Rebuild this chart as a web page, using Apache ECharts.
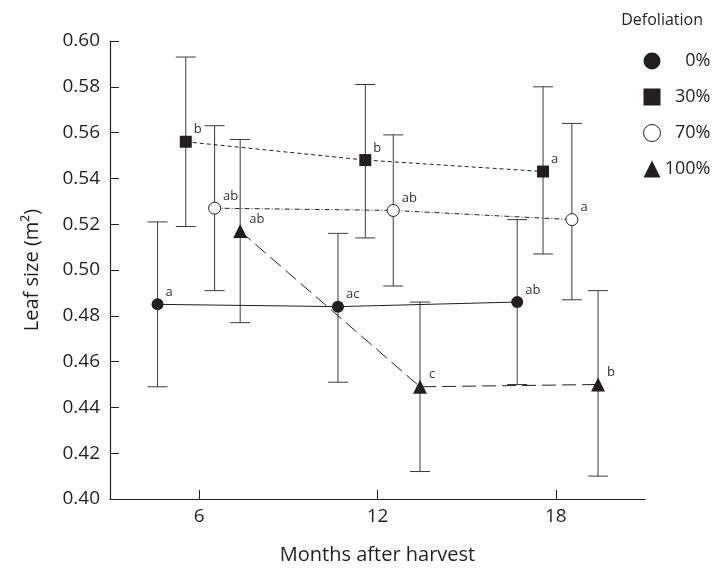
<!DOCTYPE html>
<html>
<head>
<meta charset="utf-8">
<script src="https://cdn.jsdelivr.net/npm/echarts@6/dist/echarts.min.js"></script>
<style>
  html, body { margin: 0; padding: 0; background: #fff; }
  #chart { width: 713px; height: 572px; }
</style>
</head>
<body>
<div id="chart"></div>
<script>
// ── data ──
const groups = ['0%', '30%', '70%', '100%']
const xTicks = [6, 12, 18]

// x positions (months, jittered per group as in the figure)
const x0 = [4.6, 10.67, 16.7]
const x30 = [5.55, 11.59, 17.57]
const x70 = [6.52, 12.53, 18.54]
const x100 = [7.38, 13.43, 19.42]

// means
const mean0 = [0.485, 0.484, 0.486]
const mean30 = [0.556, 0.548, 0.543]
const mean70 = [0.527, 0.526, 0.522]
const mean100 = [0.517, 0.449, 0.450]

// error bar lower / upper
const low0 = [0.449, 0.451, 0.450]
const up0 = [0.521, 0.516, 0.522]
const low30 = [0.519, 0.514, 0.507]
const up30 = [0.593, 0.581, 0.580]
const low70 = [0.491, 0.493, 0.487]
const up70 = [0.563, 0.559, 0.564]
const low100 = [0.477, 0.412, 0.410]
const up100 = [0.557, 0.486, 0.491]

// significance letters
const letters0 = ['a', 'ac', 'ab']
const letters30 = ['b', 'b', 'a']
const letters70 = ['ab', 'ab', 'a']
const letters100 = ['ab', 'c', 'b']

const INK = '#231f20'
const FONT = '"Open Sans", "Noto Sans", sans-serif'

const sets = [
  { name: groups[0], x: x0, y: mean0, lo: low0, hi: up0, lab: letters0, symbol: 'circle', fill: INK, dash: 'solid' },
  { name: groups[1], x: x30, y: mean30, lo: low30, hi: up30, lab: letters30, symbol: 'rect', fill: INK, dash: [4, 3] },
  { name: groups[2], x: x70, y: mean70, lo: low70, hi: up70, lab: letters70, symbol: 'circle', fill: '#fff', dash: [5, 2, 1, 2] },
  { name: groups[3], x: x100, y: mean100, lo: low100, hi: up100, lab: letters100, symbol: 'triangle', fill: INK, dash: [14, 6] },
]

// ── series ──
const series = []

sets.forEach(s => {
  // error bars
  series.push({
    type: 'custom',
    name: s.name + ' err',
    z: 1,
    silent: true,
    data: s.x.map((v, i) => [v, s.lo[i], s.hi[i]]),
    renderItem(params, api) {
      const lo = api.coord([api.value(0), api.value(1)])
      const hi = api.coord([api.value(0), api.value(2)])
      const w = 10
      const style = { stroke: '#3a3a3a', lineWidth: 1 }
      return {
        type: 'group',
        children: [
          { type: 'line', shape: { x1: lo[0], y1: lo[1], x2: hi[0], y2: hi[1] }, style },
          { type: 'line', shape: { x1: lo[0] - w, y1: lo[1], x2: lo[0] + w, y2: lo[1] }, style },
          { type: 'line', shape: { x1: hi[0] - w, y1: hi[1], x2: hi[0] + w, y2: hi[1] }, style },
        ],
      }
    },
  })

  // means + connecting line
  series.push({
    type: 'line',
    name: s.name,
    z: 3,
    data: s.x.map((v, i) => [v, s.y[i]]),
    symbol: s.symbol,
    symbolSize: s.symbol === 'triangle' ? 14 : 12,
    showAllSymbol: true,
    lineStyle: { color: INK, width: 1, type: s.dash },
    itemStyle: { color: s.fill, borderColor: INK, borderWidth: s.fill === '#fff' ? 1 : 0 },
    label: {
      show: true,
      position: 'right',
      offset: [-3, -12],
      fontSize: 13,
      fontFamily: FONT,
      color: '#333',
      formatter: p => s.lab[p.dataIndex],
    },
    emphasis: { disabled: true },
  })
})

const chart = echarts.init(document.getElementById('chart'))

chart.setOption({
  animation: false,
  backgroundColor: '#fff',
  textStyle: { fontFamily: FONT, color: INK },
  title: {
    text: 'Defoliation',
    right: 5,
    top: 7,
    textStyle: { fontSize: 16, fontWeight: 'normal', color: INK, fontFamily: FONT },
  },
  legend: {
    orient: 'vertical',
    left: 638,
    top: 46,
    itemWidth: 17,
    itemHeight: 17,
    itemGap: 16,
    selectedMode: false,
    data: [
      { name: groups[0], icon: 'circle' },
      { name: groups[1], icon: 'rect' },
      { name: groups[2], icon: 'circle', itemStyle: { color: '#fff', borderColor: INK, borderWidth: 1 } },
      { name: groups[3], icon: 'triangle' },
    ],
    formatter: name => '{t|' + name + '}',
    textStyle: {
      fontSize: 18,
      lineHeight: 20,
      color: INK,
      fontFamily: FONT,
      rich: { t: { width: 45, align: 'right', fontSize: 18, lineHeight: 20, fontFamily: FONT, color: INK } },
    },
  },
  grid: { left: 110, right: 68, top: 41, bottom: 73 },
  xAxis: {
    type: 'value',
    min: 3,
    max: 21,
    name: 'Months after harvest',
    nameLocation: 'middle',
    nameGap: 46,
    nameTextStyle: { fontSize: 20, color: INK, fontFamily: FONT },
    splitLine: { show: false },
    axisLine: { lineStyle: { color: INK, width: 1.2 } },
    axisTick: { inside: true, length: 9, customValues: xTicks, lineStyle: { color: INK } },
    axisLabel: { customValues: xTicks, fontSize: 19, color: INK, margin: 8, fontFamily: FONT },
  },
  yAxis: {
    type: 'value',
    min: 0.40,
    max: 0.60,
    interval: 0.02,
    name: 'Leaf size (m²)',
    nameLocation: 'middle',
    nameGap: 68,
    nameTextStyle: { fontSize: 20, color: INK, fontFamily: FONT },
    splitLine: { show: false },
    axisLine: { show: true, lineStyle: { color: INK, width: 1.2 } },
    axisTick: { show: true, inside: true, length: 9, lineStyle: { color: INK } },
    axisLabel: { fontSize: 19, color: INK, margin: 10, fontFamily: FONT, formatter: v => v.toFixed(2) },
  },
  series,
})
</script>
</body>
</html>
